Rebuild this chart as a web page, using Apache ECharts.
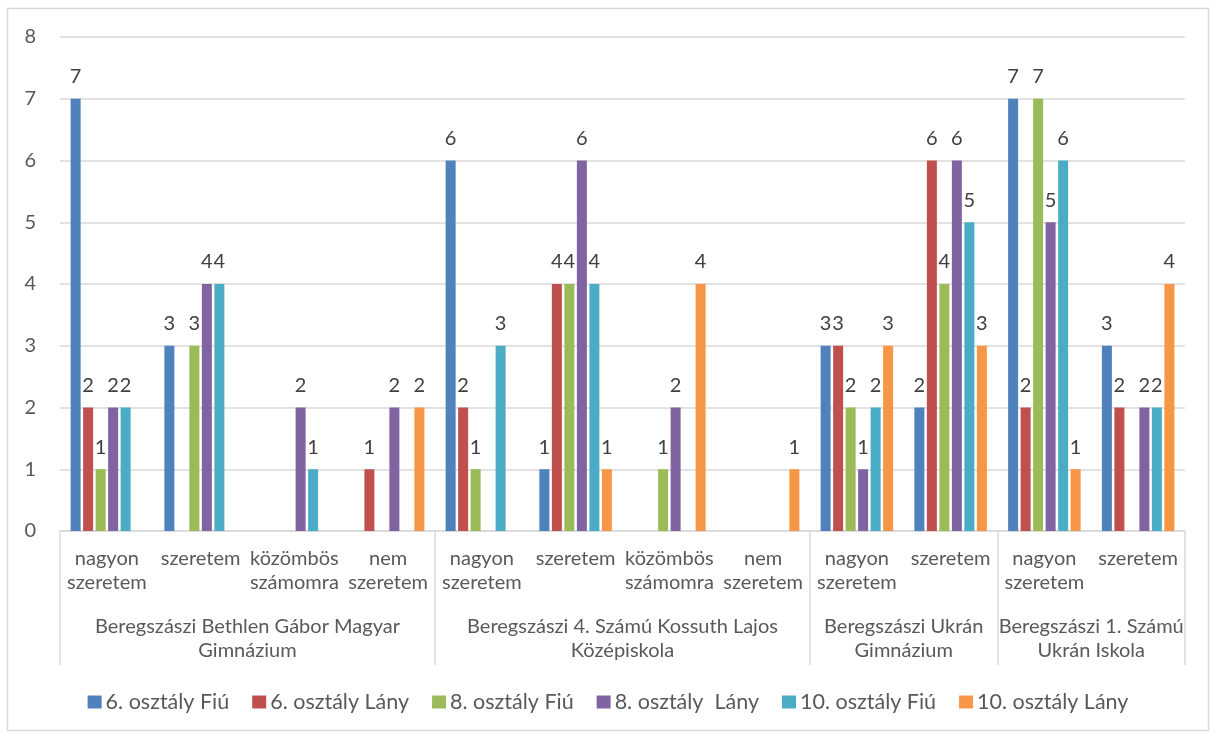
<!DOCTYPE html>
<html>
<head>
<meta charset="utf-8">
<script src="https://cdn.jsdelivr.net/npm/echarts@6/dist/echarts.min.js"></script>
<style>
html,body{margin:0;padding:0;background:#fff;}
#chart{width:1216px;height:738px;}
</style>
</head>
<body>
<div id="chart"></div>
<script>
// ---- data ----
const groups = [
  'Beregszászi Bethlen Gábor Magyar\nGimnázium',
  'Beregszászi 4. Számú Kossuth Lajos\nKözépiskola',
  'Beregszászi Ukrán\nGimnázium',
  'Beregszászi 1. Számú\nUkrán Iskola'
];
const groupSizes = [4, 4, 2, 2];
const categories = [
  'nagyon\nszeretem', 'szeretem', 'közömbös\nszámomra', 'nem\nszeretem',
  'nagyon\nszeretem', 'szeretem', 'közömbös\nszámomra', 'nem\nszeretem',
  'nagyon\nszeretem', 'szeretem',
  'nagyon\nszeretem', 'szeretem'
];
const seriesNames = ['6. osztály Fiú', '6. osztály Lány', '8. osztály Fiú', '8. osztály  Lány', '10. osztály Fiú', '10. osztály Lány'];
const s6Fiu  = [7, 3, null, null, 6, 1, null, null, 3, 2, 7, 3];
const s6Lany = [2, null, null, 1, 2, 4, null, null, 3, 6, 2, 2];
const s8Fiu  = [1, 3, null, null, 1, 4, 1, null, 2, 4, 7, null];
const s8Lany = [2, 4, 2, 2, null, 6, 2, null, 1, 6, 5, 2];
const s10Fiu = [2, 4, 1, null, 3, 4, null, null, 2, 5, 6, 2];
const s10Lany= [null, null, null, 2, null, 1, 4, 1, 3, 3, 1, 4];
const yTicks = [0, 1, 2, 3, 4, 5, 6, 7, 8];

// ---- styling ----
const colors = ['#4F81BD', '#C0504D', '#9BBB59', '#8064A2', '#4BACC6', '#F79646'];
const FONT = 'Lato';
const FS = 20;
const lineCol = '#d9d9d9';
const allValues = [s6Fiu, s6Lany, s8Fiu, s8Lany, s10Fiu, s10Lany];

// group boundaries and centres (in category units)
const bounds = [0];
groupSizes.forEach(n => bounds.push(bounds[bounds.length - 1] + n));
const centres = {};
groupSizes.forEach((n, i) => { centres[bounds[i] + n / 2] = groups[i]; });
const total = bounds[bounds.length - 1];

const chart = echarts.init(document.getElementById('chart'), null, {renderer: 'canvas'});

const barSeries = allValues.map((vals, i) => ({
  name: seriesNames[i],
  type: 'bar',
  xAxisIndex: 0,
  yAxisIndex: 0,
  data: vals,
  barWidth: 10,
  barGap: '25%',
  itemStyle: {color: colors[i]},
  label: {
    show: true,
    position: 'top',
    distance: 12,
    fontFamily: FONT,
    fontSize: FS,
    color: '#404040'
  }
}));

const option = {
  animation: false,
  color: colors,
  textStyle: {fontFamily: FONT},
  graphic: [{
    type: 'rect',
    shape: {x: 7.5, y: 8.5, width: 1201, height: 722},
    style: {fill: 'none', stroke: lineCol, lineWidth: 1.5},
    silent: true,
    z: -1
  }],
  grid: [
    {left: 60, right: 31, top: 37, height: 494, containLabel: false},
    {left: 60, right: 31, top: 531, height: 134, containLabel: false}
  ],
  legend: {
    data: seriesNames,
    bottom: 20,
    left: 'center',
    icon: 'rect',
    itemWidth: 14,
    itemHeight: 13,
    itemGap: 23,
    textStyle: {fontFamily: FONT, fontSize: 21.5, color: '#595959', padding: [0, 0, 0, -1]}
  },
  xAxis: [
    {
      type: 'category',
      gridIndex: 0,
      data: categories,
      boundaryGap: true,
      axisLine: {show: true, lineStyle: {color: lineCol, width: 1.5}},
      axisTick: {show: false},
      axisLabel: {
        interval: 0,
        margin: 16,
        fontFamily: FONT,
        fontSize: FS,
        lineHeight: 24,
        color: '#595959'
      },
      splitLine: {show: false}
    },
    {
      type: 'value',
      gridIndex: 1,
      min: 0,
      max: total,
      interval: 1,
      axisLine: {show: false},
      axisTick: {show: false},
      splitLine: {show: false},
      axisLabel: {
        inside: true,
        margin: 2,
        showMinLabel: true,
        showMaxLabel: true,
        fontFamily: FONT,
        fontSize: FS,
        lineHeight: 24,
        color: '#595959',
        formatter: v => centres[v] || ''
      }
    }
  ],
  yAxis: [
    {
      type: 'value',
      gridIndex: 0,
      min: yTicks[0],
      max: yTicks[yTicks.length - 1],
      interval: 1,
      axisLine: {show: false},
      axisTick: {show: false},
      axisLabel: {margin: 24, fontFamily: FONT, fontSize: FS, color: '#595959'},
      splitLine: {show: true, lineStyle: {color: lineCol, width: 1.5}}
    },
    {
      type: 'value',
      gridIndex: 1,
      min: 0,
      max: 1,
      show: false
    }
  ],
  series: barSeries.concat([{
    name: 'separators',
    type: 'line',
    xAxisIndex: 1,
    yAxisIndex: 1,
    data: [],
    silent: true,
    markLine: {
      silent: true,
      symbol: ['none', 'none'],
      label: {show: false},
      animation: false,
      lineStyle: {color: lineCol, type: 'solid', width: 1.5},
      data: bounds.map(b => ({xAxis: b}))
    }
  }])
};

chart.setOption(option);
</script>
</body>
</html>
